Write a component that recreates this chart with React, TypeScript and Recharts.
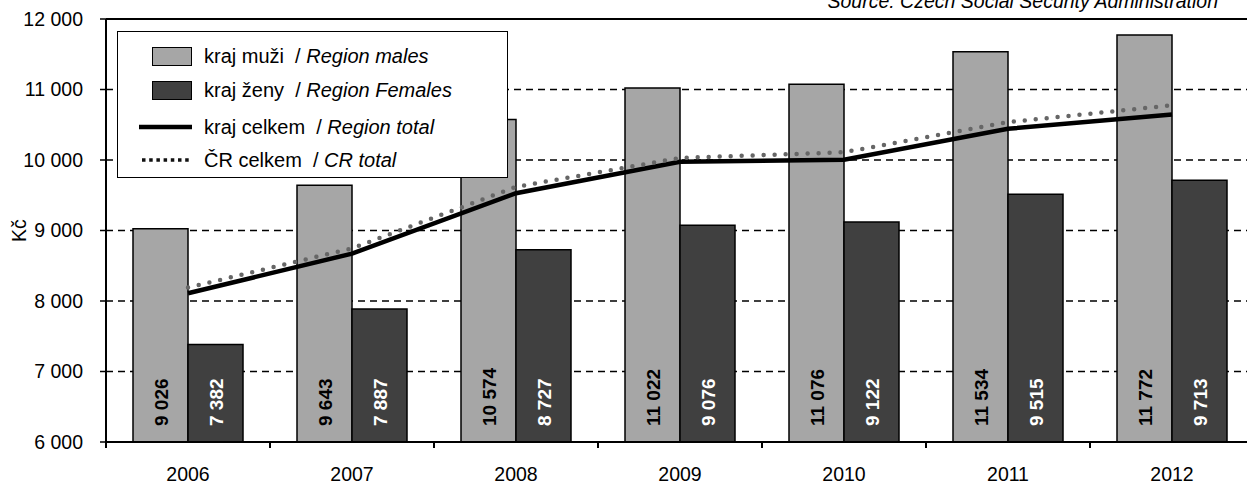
import React from 'react';
import {
  ComposedChart,
  Bar,
  Line,
  XAxis,
  YAxis,
  CartesianGrid,
  Legend,
  LabelList,
  ReferenceLine,
} from 'recharts';

const FONT = '"Liberation Sans", Arial, Helvetica, sans-serif';

// ---- data ----
const years = ['2006', '2007', '2008', '2009', '2010', '2011', '2012'];
const regionMales = [9026, 9643, 10574, 11022, 11076, 11534, 11772];
const regionFemales = [7382, 7887, 8727, 9076, 9122, 9515, 9713];
const regionTotal = [8110, 8672, 9529, 9976, 10004, 10443, 10647];
const crTotal = [8190, 8747, 9619, 10029, 10110, 10537, 10776];
const yTicks = [6000, 7000, 8000, 9000, 10000, 11000, 12000];
const legendCz = ['kraj muži', 'kraj ženy', 'kraj celkem', 'ČR celkem'];
const legendEn = ['Region males', 'Region Females', 'Region total', 'CR total'];
const sourceText = 'Source: Czech Social Security Administration';
const yLabel = 'Kč';

const data = years.map((year, i) => ({
  year,
  males: regionMales[i],
  females: regionFemales[i],
  regionTotal: regionTotal[i],
  crTotal: crTotal[i],
}));

// ---- styles ----
const MALE = '#a6a6a6';
const FEMALE = '#404040';
const CR = '#666666';
const CHART_W = 1254;
const CHART_H = 484;
const Y_W = 106;
const X_TICK = 6;
const X_MARGIN = 19;

const fmt = (v: number | string) =>
  String(v).replace(/\B(?=(\d{3})+(?!\d))/g, ' ');

const makeBarValue = (color: string) => (props: any) => {
  const { x, y, width, height, value } = props;
  const cx = Number(x) + Number(width) / 2 + 1;
  const by = Number(y) + Number(height) - 16;
  return (
    <text
      x={cx}
      y={by}
      transform={`rotate(-90 ${cx} ${by})`}
      textAnchor="start"
      dominantBaseline="central"
      fill={color}
      fontFamily={FONT}
      fontWeight="bold"
      fontSize={19}
    >
      {fmt(value)}
    </text>
  );
};

const XTick = (props: any) => {
  const { x, y, payload } = props;
  const band = (CHART_W - Y_W) / years.length;
  const axisY = y - X_TICK - X_MARGIN;
  const bx = x - band / 2;
  return (
    <g>
      <line x1={bx} x2={bx} y1={axisY} y2={axisY + X_TICK} stroke="#000" strokeWidth={2} />
      <text
        x={x}
        y={y}
        dy="0.71em"
        textAnchor="middle"
        fill="#000"
        fontFamily={FONT}
        fontSize={19.5}
      >
        {payload.value}
      </text>
    </g>
  );
};

const YLabel = (props: any) => {
  const vb = props.viewBox || { x: 0, y: 0, width: 0, height: 0 };
  const x = vb.x + 19;
  const y = vb.y + vb.height / 2;
  return (
    <text
      x={x}
      y={y}
      transform={`rotate(-90 ${x} ${y})`}
      textAnchor="middle"
      dominantBaseline="central"
      fill="#000"
      fontFamily={FONT}
      fontSize={19.5}
    >
      {yLabel}
    </text>
  );
};

const rowY = [24, 58, 95, 128];

const LegendBox = () => {
  const swatch = (i: number) => {
    if (i === 0 || i === 1) {
      return (
        <div
          style={{
            position: 'absolute',
            left: 34,
            top: rowY[i] - 9.5,
            width: 40,
            height: 19,
            background: i === 0 ? MALE : FEMALE,
            border: '1.5px solid #000',
            boxSizing: 'border-box',
          }}
        />
      );
    }
    return (
      <svg
        style={{ position: 'absolute', left: 20, top: rowY[i] - 5 }}
        width={56}
        height={10}
      >
        {i === 2 ? (
          <line x1={1} x2={54} y1={5} y2={5} stroke="#000" strokeWidth={4.5} />
        ) : (
          <line
            x1={4}
            x2={54}
            y1={5}
            y2={5}
            stroke="#111"
            strokeWidth={3.5}
            strokeDasharray="3.5 3.7"
          />
        )}
      </svg>
    );
  };
  return (
    <div
      style={{
        position: 'relative',
        width: 391,
        height: 147,
        background: '#fff',
        border: '1.5px solid #000',
        boxSizing: 'border-box',
        fontFamily: FONT,
        fontSize: 20,
        color: '#000',
      }}
    >
      {legendCz.map((cz, i) => (
        <React.Fragment key={cz}>
          {swatch(i)}
          <div
            style={{
              position: 'absolute',
              left: 86,
              top: rowY[i] - 12,
              height: 24,
              lineHeight: '24px',
              whiteSpace: 'pre',
            }}
          >
            {cz + '  / '}
            <i>{legendEn[i]}</i>
          </div>
        </React.Fragment>
      ))}
    </div>
  );
};

export default function App() {
  return (
    <div
      style={{
        position: 'absolute',
        left: 0,
        top: 0,
        width: 1247,
        height: 484,
        overflow: 'hidden',
        background: '#fff',
        fontFamily: FONT,
      }}
    >
      <ComposedChart
        width={CHART_W}
        height={CHART_H}
        data={data}
        margin={{ top: 19, right: 0, bottom: 0, left: 0 }}
        barCategoryGap={27}
        barGap={0}
      >
        <CartesianGrid
          vertical={false}
          stroke="#000"
          strokeWidth={1.5}
          strokeDasharray="7 5"
        />
        <XAxis
          dataKey="year"
          height={42}
          tickSize={X_TICK}
          tickMargin={X_MARGIN}
          tickLine={false}
          axisLine={{ stroke: '#000', strokeWidth: 2 }}
          tick={<XTick />}
          interval={0}
        />
        <YAxis
          domain={[6000, 12000]}
          ticks={yTicks}
          interval={0}
          width={Y_W}
          tickSize={6}
          tickMargin={17}
          tickFormatter={fmt}
          axisLine={{ stroke: '#000', strokeWidth: 2 }}
          tickLine={{ stroke: '#000', strokeWidth: 1.5 }}
          tick={{ fill: '#000', fontSize: 19.5, fontFamily: FONT }}
          allowDataOverflow
          label={<YLabel />}
        />
        <ReferenceLine y={12000} stroke="#000" strokeWidth={2} />
        <Bar dataKey="males" fill={MALE} stroke="#000" strokeWidth={1.5} isAnimationActive={false}>
          <LabelList dataKey="males" content={makeBarValue('#000')} />
        </Bar>
        <Bar dataKey="females" fill={FEMALE} stroke="#000" strokeWidth={1.5} isAnimationActive={false}>
          <LabelList dataKey="females" content={makeBarValue('#fff')} />
        </Bar>
        <Line
          type="linear"
          dataKey="regionTotal"
          stroke="#000"
          strokeWidth={4.5}
          dot={false}
          activeDot={false}
          isAnimationActive={false}
        />
        <Line
          type="linear"
          dataKey="crTotal"
          stroke={CR}
          strokeWidth={4.5}
          strokeDasharray="0 11"
          strokeLinecap="round"
          dot={false}
          activeDot={false}
          isAnimationActive={false}
        />
        <Legend
          layout="vertical"
          align="center"
          verticalAlign="middle"
          content={<LegendBox />}
          wrapperStyle={{ left: 117, top: 31, width: 391, height: 147 }}
        />
      </ComposedChart>
      <div
        style={{
          position: 'absolute',
          right: 29,
          top: -10,
          fontFamily: FONT,
          fontStyle: 'italic',
          fontSize: 19.5,
          whiteSpace: 'pre',
          color: '#000',
        }}
      >
        {sourceText}
      </div>
    </div>
  );
}
